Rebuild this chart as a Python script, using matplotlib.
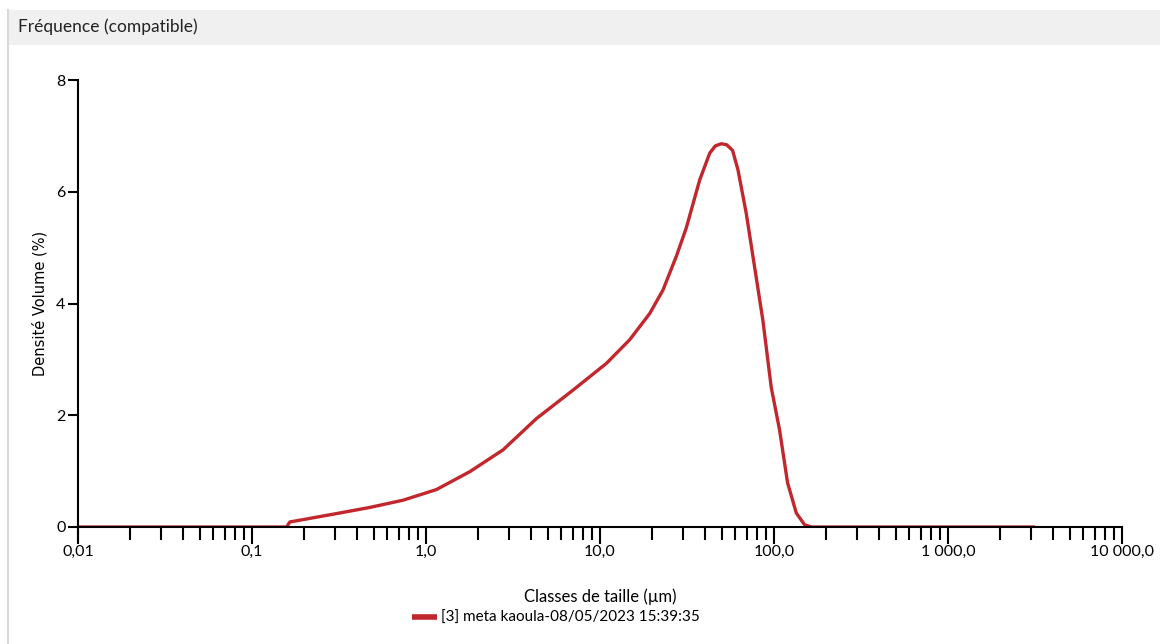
import matplotlib.pyplot as plt
from matplotlib.patches import Rectangle
from matplotlib.lines import Line2D
from matplotlib.ticker import FixedLocator, NullFormatter

# particle size classes (um) and volume density (%)
size = [0.01, 0.158, 0.165, 0.306, 0.475, 0.739, 1.148, 1.785, 2.77, 4.31, 7.0,
        10.9, 14.8, 19.3, 23.0, 27.5, 31.3, 37.4, 42.7, 46.0, 49.8, 53.5, 57.8,
        62.1, 69.3, 77.3, 86.3, 96.4, 107.6, 119.7, 134.3, 149.9, 164.0, 3160.0]
density = [0.0, 0.0, 0.09, 0.24, 0.35, 0.48, 0.67, 0.99, 1.38, 1.94, 2.45,
           2.93, 3.35, 3.82, 4.24, 4.85, 5.35, 6.21, 6.69, 6.82, 6.86, 6.84, 6.74,
           6.39, 5.61, 4.66, 3.7, 2.5, 1.74, 0.79, 0.25, 0.04, 0.0, 0.0]

xticks = [0.01, 0.1, 1, 10, 100, 1000, 10000]
xticklabels = ['0,01', '0,1', '1,0', '10,0', '100,0', '1 000,0', '10 000,0']
yticks = [0, 2, 4, 6, 8]
series_name = '[3] meta kaoula-08/05/2023 15:39:35'

narrow = ['Lato', 'DejaVu Sans']
red = '#c1272d'

fig = plt.figure(figsize=(11.6, 6.44), dpi=100)
W, H = 1160, 644

# header band and left border
fig.patches.append(Rectangle((8 / W, 1 - 45 / H), 1, 35 / H, transform=fig.transFigure,
                             facecolor='#f0f0f0', edgecolor='none', zorder=0))
fig.add_artist(Line2D([8 / W, 8 / W], [0, 1 - 10 / H], transform=fig.transFigure,
                      color='#d9d9d9', lw=1.5))
fig.text(18 / W, 1 - 27 / H, 'Fréquence (compatible)', family=narrow, fontsize=12.5,
         va='center', ha='left', color='#222222')

ax = fig.add_axes([78 / W, 1 - 527 / H, (1122 - 78) / W, (527 - 80) / H])
ax.plot(size, density, color=red, lw=2.4, label=series_name,
        solid_joinstyle='round', solid_capstyle='butt')

ax.set_xscale('log')
ax.set_xlim(0.01, 10000)
ax.set_ylim(0, 8)
ax.set_xticks(xticks)
ax.set_xticklabels(xticklabels, family=narrow, fontsize=11.5)
minors = [m * 10.0 ** e for e in range(-2, 4) for m in range(2, 10)]
ax.xaxis.set_minor_locator(FixedLocator(minors))
ax.xaxis.set_minor_formatter(NullFormatter())
ax.set_yticks(yticks)
ax.set_yticklabels([str(v) for v in yticks], family=narrow, fontsize=11.5)

for s in ['top', 'right']:
    ax.spines[s].set_visible(False)
ax.spines['left'].set_linewidth(1.5)
ax.spines['bottom'].set_linewidth(1.5)
ax.spines['left'].set_bounds(-0.25, 8)
ax.tick_params(axis='x', which='major', length=12, width=1.5, direction='out', pad=1)
ax.tick_params(axis='x', which='minor', length=9, width=1.5, direction='out')
ax.tick_params(axis='y', which='major', length=7, width=1.5, direction='out', pad=2)

ax.set_xlabel('Classes de taille (µm)', family=narrow, fontsize=12, labelpad=21)
ax.set_ylabel('Densité Volume (%)', fontsize=10.5, labelpad=6)

leg = ax.legend(loc='center', bbox_to_anchor=(556 / W, 1 - 618 / H),
                bbox_transform=fig.transFigure, frameon=False,
                prop={'family': narrow, 'size': 11}, handlelength=1.6,
                handletextpad=0.3)
for l in leg.get_lines():
    l.set_linewidth(4)

fig.savefig('out.png', dpi=100)
